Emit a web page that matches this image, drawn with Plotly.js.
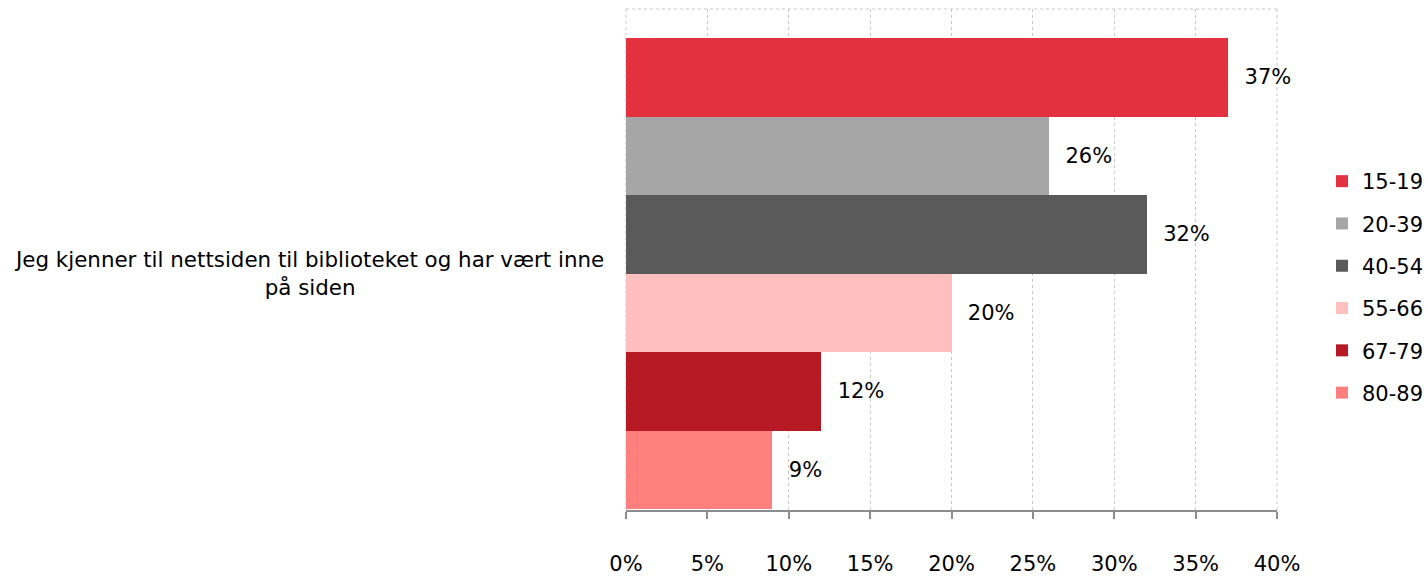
<!DOCTYPE html>
<html><head><meta charset="utf-8">
<script src="https://cdn.plot.ly/plotly-3.0.1.min.js"></script>
<style>html,body{margin:0;padding:0;background:#fff}#c{width:1427px;height:576px}</style>
</head><body><div id="c"></div>
<script>
const category = "Jeg kjenner til nettsiden til biblioteket og har vært inne<br>på siden";
const groups = ["15-19", "20-39", "40-54", "55-66", "67-79", "80-89"];
const values = [37, 26, 32, 20, 12, 9];
const colors = ["#E3313F", "#A6A6A6", "#5A5A5A", "#FFBFBF", "#B71A24", "#FF7F7F"];
const xTicks = [0, 5, 10, 15, 20, 25, 30, 35, 40];

const FONT = "DejaVu Sans, Verdana, sans-serif";
const FS = 21;
const traces = groups.map((g, i) => ({
  type: "bar", orientation: "h", name: g,
  x: [values[i]], y: [category],
  marker: {color: colors[i], line: {width: 0}},
  text: ["\u00a0\u00a0" + values[i] + "%"], textposition: "outside",
  textfont: {family: FONT, size: FS, color: "#000"},
  cliponaxis: false, legendgroup: g,
  hoverinfo: "skip"
}));

const GRID = "#c8c8c8";
const layout = {
  width: 1427, height: 576,
  margin: {l: 626, r: 150, t: 9, b: 66},
  paper_bgcolor: "#fff", plot_bgcolor: "#fff",
  font: {family: FONT, size: FS, color: "#000"},
  barmode: "group", bargap: 0, bargroupgap: 0,
  showlegend: true,
  legend: {xref: "container", yref: "container", x: 1322 / 1427, xanchor: "left",
           y: 1 - 287 / 576, yanchor: "middle", itemwidth: 30,
           font: {family: FONT, size: FS, color: "#000"}, tracegroupgap: 12,
           traceorder: "grouped"},
  xaxis: {range: [0, 40], tickvals: xTicks, ticktext: xTicks.map(v => v + "%"),
          showgrid: true, gridcolor: GRID, griddash: "3px,3px", gridwidth: 1,
          zeroline: false, showline: true, linecolor: "#8c8c8c", linewidth: 2,
          ticks: "outside", ticklen: 7, tickcolor: "#8c8c8c", tickwidth: 2,
          ticklabelstandoff: 27,
          tickfont: {family: FONT, size: FS, color: "#000"}, fixedrange: true},
  yaxis: {type: "category", range: [0.502, -0.5616], showticklabels: false,
          showgrid: false, zeroline: false, showline: false, ticks: "", fixedrange: true},
  shapes: [
    {type: "line", xref: "paper", yref: "paper", x0: 0, x1: 1, y0: 1, y1: 1, layer: "below",
     line: {color: GRID, width: 1, dash: "3px,3px"}},
    {type: "line", xref: "paper", yref: "paper", x0: 0, x1: 0, y0: 0, y1: 1, layer: "below",
     line: {color: GRID, width: 1, dash: "3px,3px"}},
    {type: "line", xref: "paper", yref: "paper", x0: 1, x1: 1, y0: 0, y1: 1, layer: "below",
     line: {color: GRID, width: 1, dash: "3px,3px"}}
  ],
  annotations: [{xref: "paper", yref: "y", x: 0, y: category, xshift: -20,
                 xanchor: "right", yanchor: "middle", align: "center", showarrow: false,
                 text: category, font: {family: FONT, size: 21.4, color: "#000"}}]
};
Plotly.newPlot("c", traces, layout, {displayModeBar: false, staticPlot: true});
</script></body></html>
